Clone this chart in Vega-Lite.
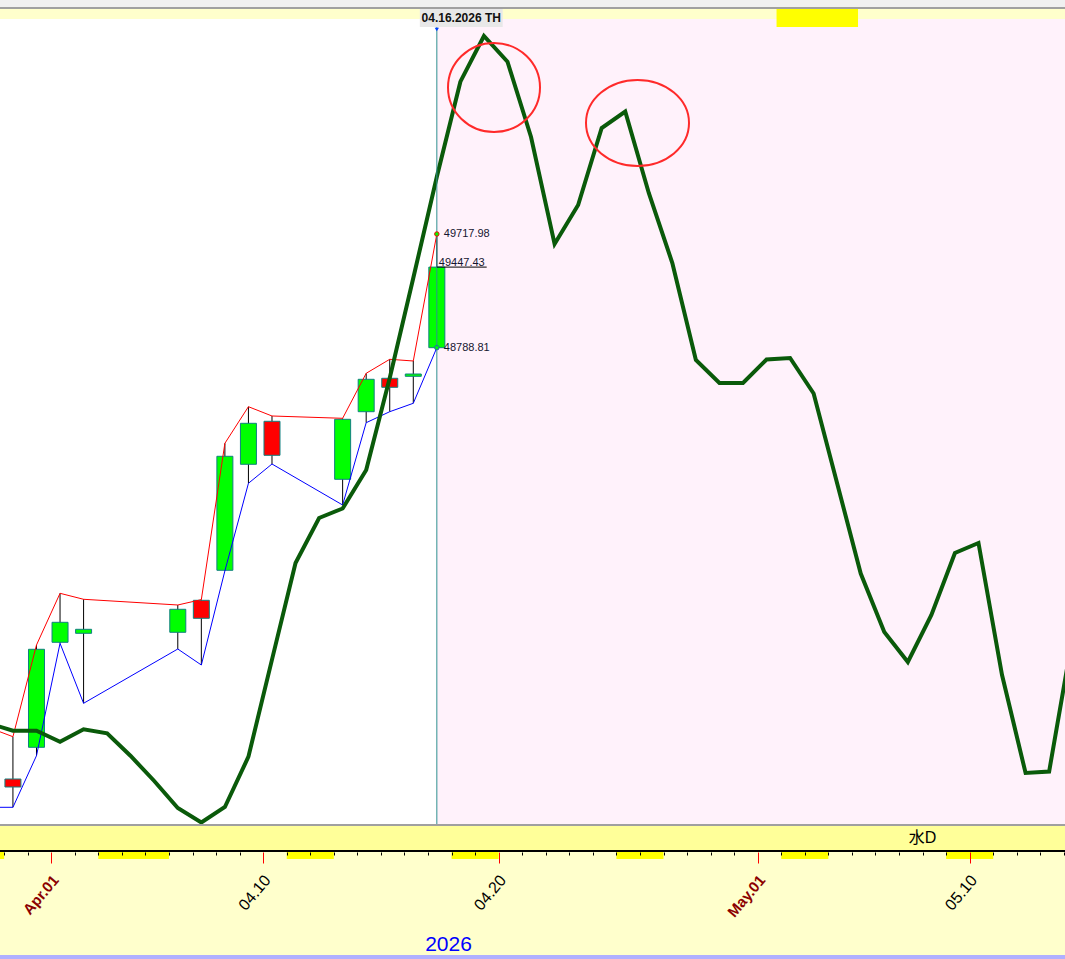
{
  "$schema": "https://vega.github.io/schema/vega-lite/v6.json",
  "padding": 0,
  "background": "#FFFFCC",
  "spacing": 0,
  "bounds": "flush",
  "config": {"view": {"stroke": null}, "font": "Liberation Sans"},
  "datasets": {
    "candles": [
      {"t": "2026-03-27T09:00:00Z", "open": 45700, "high": 45828, "low": 45033, "close": 45300},
      {"t": "2026-03-30T09:00:00Z", "open": 45264.2, "high": 45609.9, "low": 45033.0, "close": 45198.9},
      {"t": "2026-03-31T09:00:00Z", "open": 45523.3, "high": 46359.3, "low": 45454.7, "close": 46324.2},
      {"t": "2026-04-01T09:00:00Z", "open": 46381.4, "high": 46781.8, "low": 46373.2, "close": 46544.8},
      {"t": "2026-04-02T09:00:00Z", "open": 46454.9, "high": 46732.8, "low": 45882.9, "close": 46487.6},
      {"t": "2026-04-06T09:00:00Z", "open": 46463.1, "high": 46686.2, "low": 46326.6, "close": 46651.1},
      {"t": "2026-04-07T09:00:00Z", "open": 46724.6, "high": 46730.0, "low": 46195.9, "close": 46577.5},
      {"t": "2026-04-08T09:00:00Z", "open": 46969.8, "high": 48007.6, "low": 46965.0, "close": 47901.4},
      {"t": "2026-04-09T09:00:00Z", "open": 47836.0, "high": 48306.7, "low": 47680.7, "close": 48171.0},
      {"t": "2026-04-10T09:00:00Z", "open": 48187.4, "high": 48230.7, "low": 47838.4, "close": 47909.5},
      {"t": "2026-04-13T09:00:00Z", "open": 47713.4, "high": 48211.9, "low": 47503.4, "close": 48203.7},
      {"t": "2026-04-14T09:00:00Z", "open": 48265.8, "high": 48579.6, "low": 48175.9, "close": 48530.6},
      {"t": "2026-04-15T09:00:00Z", "open": 48538.8, "high": 48694.0, "low": 48265.8, "close": 48465.2},
      {"t": "2026-04-16T09:00:00Z", "open": 48555.1, "high": 48680.2, "low": 48334.5, "close": 48573.9},
      {"t": "2026-04-17T09:00:00Z", "open": 48788.81, "high": 49717.98, "low": 48788.81, "close": 49447.43}
    ],
    "forecast": [
      {"t": "2026-03-29T09:00:00Z", "value": 45717.8},
      {"t": "2026-03-30T09:00:00Z", "value": 45659.0},
      {"t": "2026-03-31T09:00:00Z", "value": 45659.0},
      {"t": "2026-04-01T09:00:00Z", "value": 45569.1},
      {"t": "2026-04-02T09:00:00Z", "value": 45670.4},
      {"t": "2026-04-03T09:00:00Z", "value": 45637.7},
      {"t": "2026-04-04T09:00:00Z", "value": 45452.2},
      {"t": "2026-04-05T09:00:00Z", "value": 45247.9},
      {"t": "2026-04-06T09:00:00Z", "value": 45027.3},
      {"t": "2026-04-07T09:00:00Z", "value": 44908.8},
      {"t": "2026-04-08T09:00:00Z", "value": 45035.4},
      {"t": "2026-04-09T09:00:00Z", "value": 45446.5},
      {"t": "2026-04-10T09:00:00Z", "value": 46240.0},
      {"t": "2026-04-11T09:00:00Z", "value": 47029.4},
      {"t": "2026-04-12T09:00:00Z", "value": 47397.2},
      {"t": "2026-04-13T09:00:00Z", "value": 47474.8},
      {"t": "2026-04-14T09:00:00Z", "value": 47789.4},
      {"t": "2026-04-15T09:00:00Z", "value": 48541.2},
      {"t": "2026-04-16T09:00:00Z", "value": 49358.4},
      {"t": "2026-04-17T09:00:00Z", "value": 50186.3},
      {"t": "2026-04-18T09:00:00Z", "value": 50962.6},
      {"t": "2026-04-19T09:00:00Z", "value": 51336.1},
      {"t": "2026-04-20T09:00:00Z", "value": 51126.0},
      {"t": "2026-04-21T09:00:00Z", "value": 50510.7},
      {"t": "2026-04-22T09:00:00Z", "value": 49636.3},
      {"t": "2026-04-23T09:00:00Z", "value": 49955.0},
      {"t": "2026-04-24T09:00:00Z", "value": 50584.2},
      {"t": "2026-04-25T09:00:00Z", "value": 50719.1},
      {"t": "2026-04-26T09:00:00Z", "value": 50053.1},
      {"t": "2026-04-27T09:00:00Z", "value": 49481.0},
      {"t": "2026-04-28T09:00:00Z", "value": 48688.3},
      {"t": "2026-04-29T09:00:00Z", "value": 48500.4},
      {"t": "2026-04-30T09:00:00Z", "value": 48500.4},
      {"t": "2026-05-01T09:00:00Z", "value": 48692.4},
      {"t": "2026-05-02T09:00:00Z", "value": 48704.7},
      {"t": "2026-05-03T09:00:00Z", "value": 48414.6},
      {"t": "2026-05-04T09:00:00Z", "value": 47679.1},
      {"t": "2026-05-05T09:00:00Z", "value": 46943.6},
      {"t": "2026-05-06T09:00:00Z", "value": 46465.5},
      {"t": "2026-05-07T09:00:00Z", "value": 46220.4},
      {"t": "2026-05-08T09:00:00Z", "value": 46604.5},
      {"t": "2026-05-09T09:00:00Z", "value": 47111.1},
      {"t": "2026-05-10T09:00:00Z", "value": 47192.9},
      {"t": "2026-05-11T09:00:00Z", "value": 46114.1},
      {"t": "2026-05-12T09:00:00Z", "value": 45313.3},
      {"t": "2026-05-13T09:00:00Z", "value": 45325.5},
      {"t": "2026-05-14T09:00:00Z", "value": 46432.9}
    ],
    "levels": [
      {"t": "2026-04-17T09:00:00Z", "kind": "high", "price": 49717.98},
      {"t": "2026-04-17T09:00:00Z", "kind": "close", "price": 49447.43},
      {"t": "2026-04-17T09:00:00Z", "kind": "low", "price": 48788.81}
    ],
    "circles": [
      {"t": "2026-04-19T19:16:00Z", "price": 50915.2, "id": "a"},
      {"t": "2026-04-25T21:30:00Z", "price": 50625.1, "id": "b"}
    ],
    "weekends": [
      {"start": "2026-03-28T00:00:00Z", "end": "2026-03-30T00:00:00Z"},
      {"start": "2026-04-03T00:00:00Z", "end": "2026-04-06T00:00:00Z"},
      {"start": "2026-04-11T00:00:00Z", "end": "2026-04-13T00:00:00Z"},
      {"start": "2026-04-18T00:00:00Z", "end": "2026-04-20T00:00:00Z"},
      {"start": "2026-04-25T00:00:00Z", "end": "2026-04-27T00:00:00Z"},
      {"start": "2026-05-02T00:00:00Z", "end": "2026-05-04T00:00:00Z"},
      {"start": "2026-05-09T00:00:00Z", "end": "2026-05-11T00:00:00Z"}
    ]
  },
  "vconcat": [
    {"width": 1065, "height": 7, "view": {"fill": "#F0F0F0", "stroke": null}, "data": {"values": []}, "mark": "point"},
    {"width": 1065, "height": 2, "view": {"fill": "#A0A0A0", "stroke": null}, "data": {"values": []}, "mark": "point"},
    {"width": 1065, "height": 10, "view": {"fill": "#FFFFCC", "stroke": null}, "data": {"values": []}, "mark": "point"},
    {
      "width": 1065,
      "height": 805,
      "view": {"fill": "#FFFFFF", "stroke": null},
      "layer": [
        {
          "data": {"values": [{"zone": "forecast"}]},
          "mark": {"type": "rect", "color": "#FFF2FB", "clip": true},
          "encoding": {
            "x": {"datum": {"year": 2026, "month": 4, "date": 17, "hours": 9, "utc": true}, "type": "temporal", "axis": null,
              "scale": {"type": "utc", "nice": false, "padding": 0, "domain": [{"year": 2026, "month": 3, "date": 29, "hours": 19, "minutes": 49, "utc": true}, {"year": 2026, "month": 5, "date": 14, "hours": 1, "minutes": 10, "utc": true}]}},
            "x2": {"datum": {"year": 2026, "month": 5, "date": 20, "utc": true}},
            "y": {"datum": 52000, "type": "quantitative", "axis": null, "scale": {"domain": [44896.5, 51474.96], "nice": false, "zero": false, "padding": 0}},
            "y2": {"datum": 44000}
          }
        },
        {
          "data": {"name": "candles"},
          "mark": {"type": "rule", "color": "#000000", "strokeWidth": 1, "clip": true},
          "encoding": {
            "x": {"field": "t", "type": "temporal", "axis": null},
            "y": {"field": "low", "type": "quantitative", "axis": null},
            "y2": {"field": "high"}
          }
        },
        {
          "data": {"name": "candles"},
          "mark": {"type": "bar", "size": 16, "stroke": "#108080", "strokeWidth": 1, "clip": true},
          "encoding": {
            "x": {"field": "t", "type": "temporal", "axis": null},
            "y": {"field": "open", "type": "quantitative", "axis": null},
            "y2": {"field": "close"},
            "color": {"condition": {"test": "datum.close >= datum.open", "value": "#00FF00"}, "value": "#FF0000"}
          }
        },
        {
          "data": {"name": "candles"},
          "mark": {"type": "line", "color": "#FF0000", "strokeWidth": 1, "clip": true},
          "encoding": {
            "x": {"field": "t", "type": "temporal", "axis": null},
            "y": {"field": "high", "type": "quantitative", "axis": null}
          }
        },
        {
          "data": {"name": "candles"},
          "mark": {"type": "line", "color": "#0000FF", "strokeWidth": 1, "clip": true},
          "encoding": {
            "x": {"field": "t", "type": "temporal", "axis": null},
            "y": {"field": "low", "type": "quantitative", "axis": null}
          }
        },
        {
          "data": {"name": "forecast"},
          "mark": {"type": "line", "color": "#0A5A0A", "strokeWidth": 4, "strokeJoin": "miter", "clip": true},
          "encoding": {
            "x": {"field": "t", "type": "temporal", "axis": null},
            "y": {"field": "value", "type": "quantitative", "axis": null}
          }
        },
        {
          "data": {"values": [{"event": "last bar"}]},
          "mark": {"type": "rule", "color": "#2F8F8F", "strokeWidth": 1},
          "encoding": {
            "x": {"datum": {"year": 2026, "month": 4, "date": 17, "hours": 9, "utc": true}, "type": "temporal", "axis": null}
          }
        },
        {
          "data": {"values": [{"event": "last bar"}]},
          "mark": {"type": "point", "shape": "triangle-down", "filled": true, "color": "#0040FF", "size": 18, "opacity": 1},
          "encoding": {
            "x": {"datum": {"year": 2026, "month": 4, "date": 17, "hours": 9, "utc": true}, "type": "temporal", "axis": null},
            "y": {"datum": 51389.2, "type": "quantitative", "axis": null}
          }
        },
        {
          "data": {"values": [{"event": "date box"}]},
          "mark": {"type": "rect", "color": "#E8E8E8"},
          "encoding": {
            "x": {"datum": {"year": 2026, "month": 4, "date": 16, "hours": 15, "minutes": 39, "utc": true}, "type": "temporal", "axis": null},
            "x2": {"datum": {"year": 2026, "month": 4, "date": 20, "hours": 4, "minutes": 8, "utc": true}},
            "y": {"datum": 51556.7, "type": "quantitative", "axis": null},
            "y2": {"datum": 51409.6}
          }
        },
        {
          "data": {"values": [{"label": "04.16.2026 TH"}]},
          "mark": {"type": "text", "fontSize": 12, "fontWeight": "bold", "font": "Liberation Sans", "color": "#111111", "align": "center", "baseline": "middle"},
          "encoding": {
            "x": {"datum": {"year": 2026, "month": 4, "date": 18, "hours": 9, "minutes": 53, "utc": true}, "type": "temporal", "axis": null},
            "y": {"datum": 51487.0, "type": "quantitative", "axis": null},
            "text": {"field": "label"}
          }
        },
        {
          "data": {"values": [{"event": "marker"}]},
          "mark": {"type": "rect", "color": "#FFFF00"},
          "encoding": {
            "x": {"datum": {"year": 2026, "month": 5, "date": 1, "hours": 19, "minutes": 12, "utc": true}, "type": "temporal", "axis": null},
            "x2": {"datum": {"year": 2026, "month": 5, "date": 5, "hours": 6, "minutes": 14, "utc": true}},
            "y": {"datum": 51556.7, "type": "quantitative", "axis": null},
            "y2": {"datum": 51409.6}
          }
        },
        {
          "data": {"values": [{"price": 49447.43}]},
          "mark": {"type": "rule", "color": "#000000", "strokeWidth": 1},
          "encoding": {
            "x": {"datum": {"year": 2026, "month": 4, "date": 17, "hours": 9, "utc": true}, "type": "temporal", "axis": null},
            "x2": {"datum": {"year": 2026, "month": 4, "date": 19, "hours": 11, "minutes": 49, "utc": true}},
            "y": {"field": "price", "type": "quantitative", "axis": null}
          }
        },
        {
          "data": {"name": "levels"},
          "transform": [{"filter": "datum.kind != 'close'"}],
          "mark": {"type": "point", "filled": true, "fill": "#00FF00", "size": 20, "strokeWidth": 1, "opacity": 1},
          "encoding": {
            "x": {"field": "t", "type": "temporal", "axis": null},
            "y": {"field": "price", "type": "quantitative", "axis": null},
            "stroke": {"condition": {"test": "datum.kind == 'high'", "value": "#FF0000"}, "value": "#2060C0"}
          }
        },
        {
          "data": {"name": "levels"},
          "transform": [{"filter": "datum.kind != 'close'"}],
          "mark": {"type": "text", "fontSize": 11, "font": "Liberation Sans", "color": "#151530", "align": "left", "baseline": "middle", "dx": 7},
          "encoding": {
            "x": {"field": "t", "type": "temporal", "axis": null},
            "y": {"field": "price", "type": "quantitative", "axis": null},
            "text": {"field": "price", "type": "quantitative", "format": ".2f"}
          }
        },
        {
          "data": {"name": "levels"},
          "transform": [{"filter": "datum.kind == 'close'"}],
          "mark": {"type": "text", "fontSize": 11, "font": "Liberation Sans", "color": "#151530", "align": "left", "baseline": "alphabetic", "dx": 2, "dy": -1},
          "encoding": {
            "x": {"field": "t", "type": "temporal", "axis": null},
            "y": {"field": "price", "type": "quantitative", "axis": null},
            "text": {"field": "price", "type": "quantitative", "format": ".2f"}
          }
        },
        {
          "data": {"name": "circles"},
          "transform": [{"filter": "datum.id == 'a'"}],
          "mark": {"type": "point", "filled": false, "color": "#FF2A2A", "strokeWidth": 2, "opacity": 1, "size": 8464,
            "shape": "M-1,0C-1,-0.5341,-0.5523,-0.967,0,-0.967C0.5523,-0.967,1,-0.5341,1,0C1,0.5341,0.5523,0.967,0,0.967C-0.5523,0.967,-1,0.5341,-1,0Z"},
          "encoding": {
            "x": {"field": "t", "type": "temporal", "axis": null},
            "y": {"field": "price", "type": "quantitative", "axis": null}
          }
        },
        {
          "data": {"name": "circles"},
          "transform": [{"filter": "datum.id == 'b'"}],
          "mark": {"type": "point", "filled": false, "color": "#FF2A2A", "strokeWidth": 2, "opacity": 1, "size": 10609,
            "shape": "M-1,0C-1,-0.4612,-0.5523,-0.835,0,-0.835C0.5523,-0.835,1,-0.4612,1,0C1,0.4612,0.5523,0.835,0,0.835C-0.5523,0.835,-1,0.4612,-1,0Z"},
          "encoding": {
            "x": {"field": "t", "type": "temporal", "axis": null},
            "y": {"field": "price", "type": "quantitative", "axis": null}
          }
        }
      ]
    },
    {"width": 1065, "height": 2, "view": {"fill": "#A0A0A0", "stroke": null}, "data": {"values": []}, "mark": "point"},
    {
      "width": 1065,
      "height": 24,
      "view": {"fill": "#FFFF99", "stroke": null},
      "data": {"values": [{"label": "水D"}]},
      "mark": {"type": "text", "fontSize": 16, "font": "Liberation Sans, Noto Sans CJK JP", "color": "#000000", "align": "center", "baseline": "middle"},
      "encoding": {
        "x": {"datum": {"year": 2026, "month": 5, "date": 8, "utc": true}, "type": "temporal", "axis": null,
          "scale": {"type": "utc", "nice": false, "padding": 0, "domain": [{"year": 2026, "month": 3, "date": 29, "hours": 19, "minutes": 49, "utc": true}, {"year": 2026, "month": 5, "date": 14, "hours": 1, "minutes": 10, "utc": true}]}},
        "text": {"field": "label"}
      }
    },
    {"width": 1065, "height": 2, "view": {"fill": "#000000", "stroke": null}, "data": {"values": []}, "mark": "point"},
    {
      "width": 1065,
      "height": 7,
      "view": {"fill": "#FFFFCC", "stroke": null},
      "data": {"name": "weekends"},
      "mark": {"type": "rect", "color": "#FFFF00", "clip": true},
      "encoding": {
        "x": {
          "field": "start", "type": "temporal",
          "scale": {"type": "utc", "nice": false, "padding": 0, "domain": [{"year": 2026, "month": 3, "date": 29, "hours": 19, "minutes": 49, "utc": true}, {"year": 2026, "month": 5, "date": 14, "hours": 1, "minutes": 10, "utc": true}]},
          "axis": {
            "orient": "bottom", "offset": -7, "zindex": 1, "domain": false, "grid": false,
            "tickCount": {"interval": "day", "step": 1},
            "tickWidth": 1,
            "tickColor": {"condition": {"test": "utcdate(datum.value) == 1 || utcdate(datum.value) == 10 || utcdate(datum.value) == 20", "value": "#FF0000"}, "value": "#000000"},
            "tickSize": {"condition": {"test": "utcdate(datum.value) == 1 || utcdate(datum.value) == 10 || utcdate(datum.value) == 20", "value": 11}, "value": 3},
            "labelExpr": "utcdate(datum.value) == 1 ? utcFormat(datum.value, '%b.%d') : (utcdate(datum.value) == 10 || utcdate(datum.value) == 20) ? utcFormat(datum.value, '%m.%d') : ''",
            "labelAngle": -50, "labelAlign": "right", "labelBaseline": "middle",
            "labelPadding": 14, "labelOffset": 4,
            "labelFont": "Liberation Sans",
            "labelColor": {"condition": {"test": "utcdate(datum.value) == 1", "value": "#8B0000"}, "value": "#000000"},
            "labelFontWeight": {"condition": {"test": "utcdate(datum.value) == 1", "value": "bold"}, "value": "normal"},
            "labelFontSize": {"condition": {"test": "utcdate(datum.value) == 1", "value": 15}, "value": 16},
            "labelOverlap": false, "labelFlush": false, "labelBound": false,
            "title": "2026", "titleColor": "#0000FF", "titleFont": "Liberation Sans", "titleFontSize": 21, "titleFontWeight": "normal",
            "titleX": 448, "titleY": 98, "titleAlign": "center", "titleBaseline": "alphabetic", "titleAngle": 0
          }
        },
        "x2": {"field": "end"}
      }
    },
    {"width": 1065, "height": 96, "view": {"fill": null, "stroke": null}, "data": {"values": []}, "mark": "point"},
    {"width": 1065, "height": 4, "view": {"fill": "#B0B0FF", "stroke": null}, "data": {"values": []}, "mark": "point"}
  ]
}
